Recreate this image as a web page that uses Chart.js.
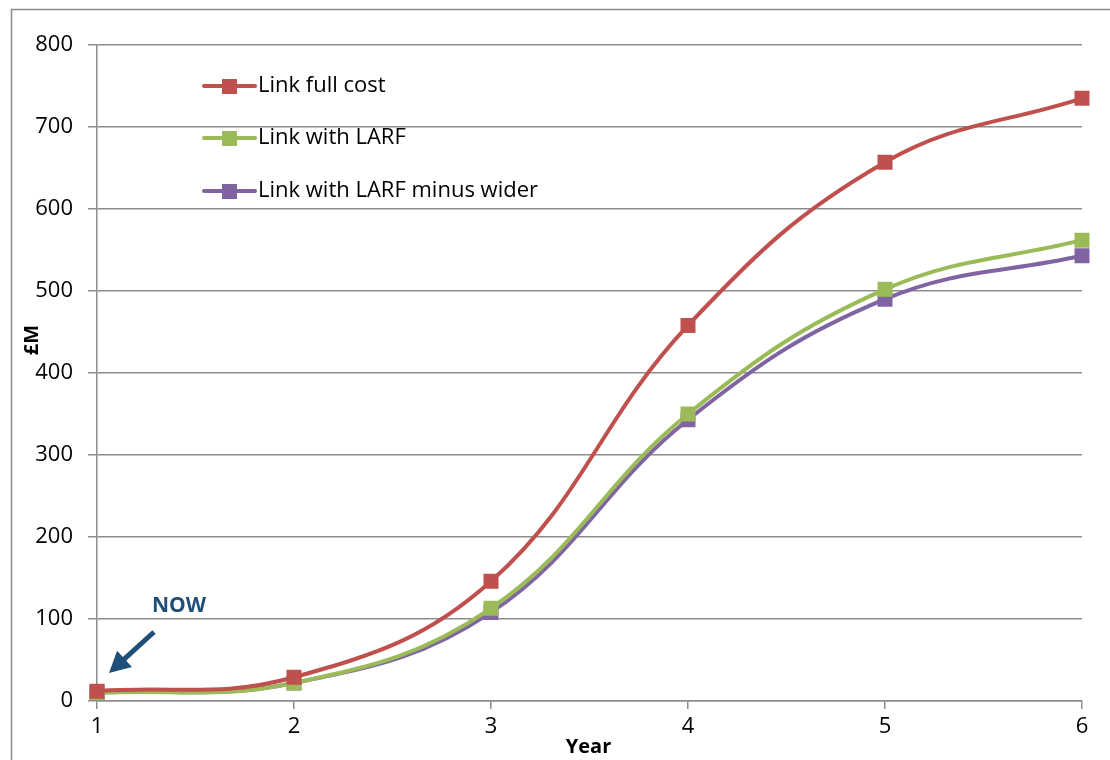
<!DOCTYPE html>
<html>
<head>
<meta charset="utf-8">
<script src="https://cdn.jsdelivr.net/npm/chart.js@4/dist/chart.umd.min.js"></script>
<style>
  html, body { margin: 0; padding: 0; background: #fff; }
  #wrap { width: 1110px; height: 760px; position: relative; }
</style>
</head>
<body>
<div id="wrap"><canvas id="c" width="1110" height="760"></canvas></div>
<script>
const years = ['1', '2', '3', '4', '5', '6'];
const linkFullCost = [12, 29, 146, 458, 657, 735];
const linkWithLarf = [10, 22, 113, 350, 502, 562];
const linkWithLarfMinusWider = [10, 22, 108, 343, 490, 543];
const seriesNames = ['Link full cost', 'Link with LARF', 'Link with LARF minus wider'];
const seriesColors = ['#C0504D', '#9BBB59', '#8064A2'];
const yTicks = [0, 100, 200, 300, 400, 500, 600, 700, 800];
const yTitle = '£M';
const xTitle = 'Year';
const noteText = 'NOW';

const FONT = '"Open Sans", "Noto Sans", sans-serif';
const GRID = '#8c8c8c';

function ds(label, data, color) {
  return {
    label, data,
    borderColor: color, backgroundColor: color,
    borderWidth: 4, tension: 0.4,
    pointStyle: 'rect', pointRadius: 10.6, pointHoverRadius: 10.6,
    pointBorderWidth: 0
  };
}

const decor = {
  id: 'decor',
  beforeDraw(chart) {
    const ctx = chart.ctx;
    ctx.save();
    ctx.fillStyle = '#fff';
    ctx.fillRect(0, 0, chart.width, chart.height);
    ctx.strokeStyle = '#8a8a8a';
    ctx.lineWidth = 1.5;
    ctx.strokeRect(11.5, 9.5, chart.width + 20, chart.height + 20);
    ctx.restore();
  },
  afterDraw(chart) {
    const ctx = chart.ctx;
    const xs = chart.scales.x, ys = chart.scales.y;
    ctx.save();
    // axis titles
    ctx.fillStyle = '#000';
    ctx.font = 'bold 20px ' + FONT;
    ctx.textAlign = 'center';
    ctx.textBaseline = 'middle';
    ctx.fillText(xTitle, (xs.left + xs.right) / 2 - 1, 747);
    ctx.save();
    ctx.translate(32, 340);
    ctx.rotate(-Math.PI / 2);
    ctx.fillText(yTitle, 0, 0);
    ctx.restore();

    // legend inside plot
    ctx.font = '22px ' + FONT;
    ctx.textAlign = 'left';
    const ly = [86, 138, 191];
    chart.data.datasets.forEach((d, i) => {
      const y = ly[i];
      ctx.strokeStyle = d.borderColor;
      ctx.lineWidth = 4;
      ctx.lineCap = 'round';
      ctx.beginPath(); ctx.moveTo(204, y); ctx.lineTo(255, y); ctx.stroke();
      ctx.fillStyle = d.borderColor;
      ctx.fillRect(222, y - 7, 15, 15);
      ctx.fillStyle = '#000';
      ctx.fillText(d.label, 258, y);
    });

    // NOW annotation
    const nowColor = '#1F4E79';
    ctx.fillStyle = nowColor;
    ctx.font = 'bold 21px ' + FONT;
    ctx.textAlign = 'center';
    ctx.fillText(noteText, 179, 606);
    const ax1 = 154, ay1 = 632, ax2 = 109, ay2 = 673;
    ctx.strokeStyle = nowColor;
    ctx.lineWidth = 5;
    ctx.lineCap = 'butt';
    const ang = Math.atan2(ay2 - ay1, ax2 - ax1);
    ctx.beginPath();
    ctx.moveTo(ax1, ay1);
    ctx.lineTo(ax2 - 12 * Math.cos(ang), ay2 - 12 * Math.sin(ang));
    ctx.stroke();
    ctx.beginPath();
    const hl = 21, hw = 11;
    ctx.moveTo(ax2, ay2);
    ctx.lineTo(ax2 - hl * Math.cos(ang) + hw * Math.sin(ang), ay2 - hl * Math.sin(ang) - hw * Math.cos(ang));
    ctx.lineTo(ax2 - hl * Math.cos(ang) - hw * Math.sin(ang), ay2 - hl * Math.sin(ang) + hw * Math.cos(ang));
    ctx.closePath();
    ctx.fill();
    ctx.restore();
  }
};

new Chart(document.getElementById('c'), {
  type: 'line',
  data: {
    labels: years,
    datasets: [
      ds(seriesNames[0], linkFullCost, seriesColors[0]),
      ds(seriesNames[1], linkWithLarf, seriesColors[1]),
      ds(seriesNames[2], linkWithLarfMinusWider, seriesColors[2])
    ]
  },
  options: {
    responsive: false,
    animation: false,
    layout: { padding: { left: 0, right: 28, top: 45, bottom: 0 } },
    plugins: { legend: { display: false }, tooltip: { enabled: false } },
    scales: {
      x: {
        offset: false,
        grid: { display: true, drawOnChartArea: false, drawTicks: true, tickLength: 8, color: GRID, lineWidth: 1.5 },
        border: { color: GRID, width: 1.5 },
        ticks: { color: '#000', font: { family: FONT, size: 22 }, padding: 5, maxRotation: 0 },
        afterFit(s) { s.height = 59; }
      },
      y: {
        min: 0, max: 800,
        afterBuildTicks(s) { s.ticks = yTicks.map(v => ({ value: v })); },
        grid: { color: GRID, lineWidth: 1.5, tickLength: 9 },
        border: { color: GRID, width: 1.5 },
        ticks: { color: '#000', font: { family: FONT, size: 22 }, padding: 15 },
        afterFit(s) { s.width = 97; }
      }
    }
  },
  plugins: [decor]
});
</script>
</body>
</html>
